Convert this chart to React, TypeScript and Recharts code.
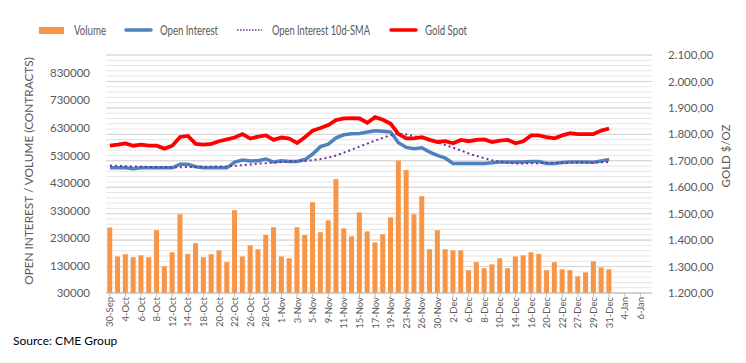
import React from 'react';
import {
  ComposedChart,
  Bar,
  Line,
  XAxis,
  YAxis,
  CartesianGrid,
} from 'recharts';

const FONT = 'Lato, "Open Sans", sans-serif';

const dates = [
  '30-Sep', '1-Oct', '4-Oct', '5-Oct', '6-Oct', '7-Oct', '8-Oct', '11-Oct', '12-Oct', '13-Oct',
  '14-Oct', '15-Oct', '18-Oct', '19-Oct', '20-Oct', '21-Oct', '22-Oct', '25-Oct', '26-Oct', '27-Oct',
  '28-Oct', '29-Oct', '1-Nov', '2-Nov', '3-Nov', '4-Nov', '5-Nov', '8-Nov', '9-Nov', '10-Nov',
  '11-Nov', '12-Nov', '15-Nov', '16-Nov', '17-Nov', '18-Nov', '19-Nov', '22-Nov', '23-Nov', '24-Nov',
  '26-Nov', '29-Nov', '30-Nov', '1-Dec', '2-Dec', '3-Dec', '6-Dec', '7-Dec', '8-Dec', '9-Dec',
  '10-Dec', '13-Dec', '14-Dec', '15-Dec', '16-Dec', '17-Dec', '20-Dec', '21-Dec', '22-Dec', '23-Dec',
  '27-Dec', '28-Dec', '29-Dec', '30-Dec', '31-Dec', '3-Jan', '4-Jan', '5-Jan', '6-Jan', '7-Jan',
];

const volume = [
  268000, 163000, 171000, 160000, 167000, 160000, 258000, 126000, 178000, 316000,
  172000, 211000, 160000, 171000, 185000, 142000, 331000, 163000, 203000, 189000,
  241000, 269000, 163000, 156000, 269000, 241000, 360000, 251000, 294000, 444000,
  265000, 236000, 323000, 254000, 214000, 243000, 305000, 512000, 477000, 316000,
  382000, 189000, 258000, 189000, 185000, 185000, 113000, 142000, 120000, 134000,
  156000, 120000, 163000, 167000, 178000, 172000, 113000, 142000, 116000, 113000,
  91000, 105000, 145000, 123000, 116000,
];

const openInterest = [
  485000, 485000, 485000, 482000, 485000, 485000, 485000, 485000, 485000, 498000,
  498000, 489000, 485000, 485000, 485000, 485000, 506000, 513000, 510000, 511000,
  517000, 506000, 511000, 508000, 508000, 515000, 535000, 562000, 571000, 594000,
  605000, 609000, 610000, 615000, 620000, 618000, 615000, 576000, 559000, 554000,
  558000, 542000, 530000, 520000, 501000, 501000, 501000, 501000, 501000, 503000,
  506000, 506000, 506000, 506000, 508000, 508000, 501000, 501000, 504000, 506000,
  506000, 506000, 505000, 510000, 515000,
];

const oiSma = [
  493000, 492000, 491000, 490000, 489000, 488000, 487000, 487000, 486000, 487000,
  488000, 488000, 489000, 489000, 490000, 490000, 492000, 495000, 497000, 500000,
  502000, 504000, 506000, 508000, 509000, 510000, 513000, 517000, 522000, 530000,
  540000, 551000, 562000, 573000, 584000, 594000, 603000, 610000, 606000, 600000,
  594000, 586000, 577000, 568000, 558000, 548000, 537000, 528000, 520000, 513000,
  507000, 503000, 501000, 501000, 502000, 502000, 503000, 503000, 503000, 504000,
  504000, 504000, 505000, 505000, 506000,
];

const goldSpot = [
  1757, 1761, 1766, 1757, 1761, 1757, 1757, 1746, 1757, 1790,
  1794, 1764, 1761, 1764, 1774, 1781, 1788, 1801, 1784, 1791,
  1796, 1779, 1788, 1784, 1767, 1789, 1814, 1824, 1835, 1854,
  1860, 1861, 1860, 1844, 1865, 1855, 1840, 1801, 1785, 1785,
  1789, 1779, 1771, 1774, 1766, 1779, 1774, 1779, 1781, 1771,
  1776, 1779, 1766, 1774, 1796, 1796, 1789, 1785, 1796, 1804,
  1801, 1801, 1801, 1814, 1822,
];

const leftTicks = [30000, 130000, 230000, 330000, 430000, 530000, 630000, 730000, 830000];
const rightTicks = [1200, 1300, 1400, 1500, 1600, 1700, 1800, 1900, 2000, 2100];
// minor gridlines every 20 $/oz
const minorTicks = Array.from({ length: 46 }, (_, i) => 1200 + i * 20);

const W = 746;
const H = 363;
const M = { top: 55, right: 0, bottom: 25, left: 0 };
const X_AXIS_H = 45;
const GOLD_MIN = 1200;
const GOLD_MAX = 2100;

const data = dates.map((d, i) => ({
  date: d,
  volume: volume[i] ?? null,
  oi: openInterest[i] ?? null,
  sma: oiSma[i] ?? null,
  gold: goldSpot[i] ?? null,
}));

const fmtPrice = (v: number) => {
  const int = Math.floor(v).toString().replace(/\B(?=(\d{3})+(?!\d))/g, '.');
  return `${int},00`;
};

// gridline positions for the minor steps of the gold axis
const plotH = H - M.top - M.bottom - X_AXIS_H;
const minorPoints = minorTicks.map((v) => M.top + ((GOLD_MAX - v) / (GOLD_MAX - GOLD_MIN)) * plotH);

const DateTick = (props: any) => {
  const { x, y, payload } = props;
  const ty = y - 2;
  return (
    <text
      x={x}
      y={ty}
      dy={3.5}
      transform={`rotate(-90 ${x} ${ty})`}
      textAnchor="end"
      fontSize={9.5}
      fontFamily={FONT}
      fill="#595959"
    >
      {payload.value}
    </text>
  );
};

// legend texts are squeezed a little to mimic the narrow Office font
const legendItems = [
  { label: 'Volume', kind: 'rect', color: '#F79646', x: 39, tx: 74, w: 32 },
  { label: 'Open Interest', kind: 'line', color: '#4F81BD', x: 125, tx: 160, w: 58 },
  { label: 'Open Interest 10d-SMA', kind: 'dot', color: '#7030A0', x: 237, tx: 272, w: 98 },
  { label: 'Gold Spot', kind: 'line', color: '#FF0000', x: 390, tx: 425, w: 42 },
];

function ChartLegend() {
  return (
    <svg width={W} height={20} style={{ position: 'absolute', left: 0, top: 20 }}>
      {legendItems.map((it) => (
        <g key={it.label}>
          {it.kind === 'rect' && <rect x={it.x} y={7} width={25} height={7} fill={it.color} />}
          {it.kind === 'line' && (
            <line x1={it.x + 1} y1={10} x2={it.x + 26} y2={10} stroke={it.color} strokeWidth={3.5} strokeLinecap="round" />
          )}
          {it.kind === 'dot' && (
            <line x1={it.x} y1={10} x2={it.x + 25} y2={10} stroke={it.color} strokeWidth={1.5} strokeDasharray="1.5 1.5" />
          )}
          <text
            x={it.tx}
            y={14.5}
            fontSize={12.5}
            fontFamily={FONT}
            fill="#595959"
            textLength={it.w}
            lengthAdjust="spacingAndGlyphs"
          >
            {it.label}
          </text>
        </g>
      ))}
    </svg>
  );
}

export default function App() {
  return (
    <div style={{ position: 'absolute', left: 0, top: 0, width: W, height: H, background: '#fff', fontFamily: FONT }}>
      <ComposedChart width={W} height={H} data={data} margin={M} barCategoryGap="16%">
        <CartesianGrid vertical={false} stroke="#E6E6E6" horizontalPoints={minorPoints} />
        <CartesianGrid yAxisId="right" vertical={false} stroke="#D4D4D4" />
        <XAxis
          dataKey="date"
          interval={1}
          height={X_AXIS_H}
          tick={<DateTick />}
          tickLine={{ stroke: '#BFBFBF' }}
          axisLine={{ stroke: '#BFBFBF' }}
          tickSize={4}
        />
        <YAxis
          yAxisId="left"
          width={106}
          domain={[30000, 895000]}
          ticks={leftTicks}
          allowDataOverflow
          axisLine={false}
          tickLine={false}
          tick={{ fontSize: 11.5, fill: '#595959', fontFamily: FONT }}
          tickMargin={10}
        />
        <YAxis
          yAxisId="right"
          orientation="right"
          width={94}
          domain={[GOLD_MIN, GOLD_MAX]}
          ticks={rightTicks}
          allowDataOverflow
          axisLine={false}
          tickLine={false}
          tickFormatter={fmtPrice}
          tick={{ fontSize: 11.5, fill: '#595959', fontFamily: FONT }}
          tickMargin={10}
        />
        <Bar yAxisId="left" dataKey="volume" fill="#F79646" isAnimationActive={false} />
        <Line
          yAxisId="left"
          type="linear"
          dataKey="oi"
          stroke="#4F81BD"
          strokeWidth={3.5}
          dot={false}
          isAnimationActive={false}
        />
        <Line
          yAxisId="left"
          type="linear"
          dataKey="sma"
          stroke="#7030A0"
          strokeWidth={2}
          strokeDasharray="2 3"
          dot={false}
          isAnimationActive={false}
        />
        <Line
          yAxisId="right"
          type="linear"
          dataKey="gold"
          stroke="#FF0000"
          strokeWidth={3.8}
          dot={false}
          isAnimationActive={false}
        />
      </ComposedChart>
      <ChartLegend />
      <div
        style={{
          position: 'absolute',
          left: 28,
          top: 171,
          transform: 'translate(-50%, -50%) rotate(-90deg)',
          whiteSpace: 'nowrap',
          fontSize: 11.8,
          color: '#595959',
        }}
      >
        OPEN INTEREST / VOLUME (CONTRACTS)
      </div>
      <div
        style={{
          position: 'absolute',
          left: 725,
          top: 156,
          transform: 'translate(-50%, -50%) rotate(-90deg)',
          whiteSpace: 'nowrap',
          fontSize: 11.5,
          color: '#595959',
        }}
      >
        GOLD $/OZ
      </div>
      <div style={{ position: 'absolute', left: 13, top: 333, fontSize: 12, color: '#000' }}>
        Source: CME Group
      </div>
    </div>
  );
}
